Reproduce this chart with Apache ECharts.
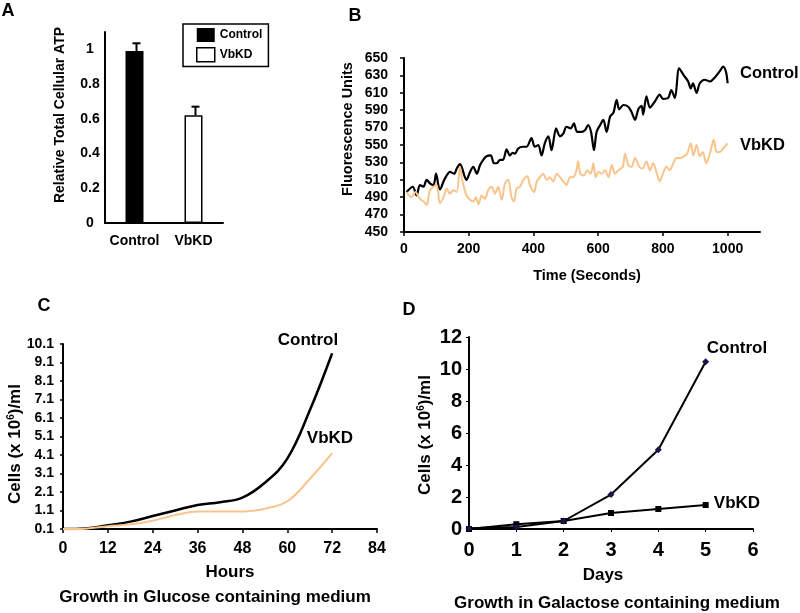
<!DOCTYPE html>
<html><head><meta charset="utf-8">
<script src="https://cdn.jsdelivr.net/npm/echarts@6/dist/echarts.min.js"></script>
<style>html,body{margin:0;padding:0;background:#fff}#c{width:800px;height:613px}</style>
</head><body><div id="c"></div>
<script>
// ---- Panel A: relative total cellular ATP ----
const atpCategories = ['Control', 'VbKD'];
const atpValues = [0.99, 0.62];
const atpErrors = [0.045, 0.05];
const atpTicks = [0, 0.2, 0.4, 0.6, 0.8, 1];

// ---- Panel B: fluorescence over time ----
const fluoControlTime = [8,27,39,49,60,70,80,91,99,107,111,122,132,142,155,163,173,178,193,204,214,225,235,245,255,268,278,286,297,306,317,327,336,343,353,367,379,394,404,415,425,435,446,456,470,482,492,502,515,525,535,549,559,569,578,587,595,606,616,626,637,647,657,665,678,693,703,714,724,734,739,749,760,775,790,800,816,826,837,850,863,878,886,893,904,914,930,945,961,976,986,995,1000];
const fluoControlValue = [496,502,492,504,502,510,506,504,517,502,499,508,515,519,517,523,528,525,510,519,525,517,527,533,537,538,529,529,533,533,545,538,541,540,546,548,548,558,548,550,538,552,560,544,569,560,563,571,569,575,565,565,567,573,565,544,565,573,579,565,583,587,602,591,596,594,588,579,591,595,585,606,593,600,608,603,604,613,604,638,631,623,615,621,610,621,625,623,628,635,640,634,621];
const fluoVbkdTime = [8,23,35,49,61,70,80,91,101,111,122,132,142,152,163,173,181,193,204,214,222,230,240,250,260,271,281,291,302,312,322,332,340,348,358,369,381,389,402,410,420,430,441,451,461,472,482,492,502,513,523,533,538,545,556,566,577,585,592,601,611,621,632,642,652,662,676,683,693,703,714,727,737,749,760,770,780,790,800,811,821,832,842,855,865,875,886,894,904,914,923,934,945,957,966,976,986,1000];
const fluoVbkdValue = [496,490,496,488,485,481,498,502,504,483,490,500,494,498,496,525,508,492,487,485,490,482,492,488,498,502,494,502,487,506,510,490,485,500,502,510,514,504,496,508,513,517,510,513,508,517,513,508,504,513,513,521,531,517,515,521,517,529,513,519,517,521,513,527,517,521,525,540,527,525,535,525,523,531,521,529,519,508,517,525,521,529,535,535,537,540,552,538,550,537,542,529,540,556,542,542,546,552];
const fluoXTicks = [0, 200, 400, 600, 800, 1000];

// ---- Panel C: growth in glucose ----
const glucoseHours = [0, 6, 12, 18, 24, 30, 36, 42, 48, 54, 60, 66, 72];
const glucoseControl = [0.1, 0.13, 0.3, 0.5, 0.8, 1.1, 1.4, 1.55, 1.8, 2.6, 3.9, 6.5, 9.6];
const glucoseVbkd = [0.1, 0.12, 0.25, 0.35, 0.55, 0.85, 1.05, 1.05, 1.05, 1.2, 1.6, 2.8, 4.2];

// ---- Panel D: growth in galactose ----
const galactoseDays = [0, 1, 2, 3, 4, 5];
const galactoseControl = [0.05, 0.12, 0.5, 2.15, 4.95, 10.45];
const galactoseVbkd = [0.0, 0.3, 0.5, 1.0, 1.25, 1.5];

const FF = '"Liberation Sans", Arial, sans-serif';
const ORANGE = '#f8c48c';
const zip = (a, b) => a.map((v, i) => [v, b[i]]);
const lbl = (size, extra) => Object.assign({color: '#000', fontFamily: FF, fontWeight: 'bold', fontSize: size}, extra || {});
const axLine = (w) => ({show: true, lineStyle: {color: '#000', width: w}});

function txt(text, x, y, size, opts) {
  opts = opts || {};
  return {
    type: 'text', x: x, y: y, rotation: opts.rot || 0, z: 100,
    style: {
      text: text, fill: '#000', fontFamily: FF, fontWeight: 'bold', fontSize: size,
      align: opts.align || 'center', verticalAlign: 'middle', rich: opts.rich
    }
  };
}
const supRich = (size) => ({sup: {fontFamily: FF, fontWeight: 'bold', fontSize: size, fill: '#000', verticalAlign: 'top', padding: [0, 0, 6, 0]}});

const chart = echarts.init(document.getElementById('c'), null, {renderer: 'canvas'});
chart.setOption({
  animation: false,
  backgroundColor: '#fff',
  grid: [
    {left: 105, top: 32, width: 118, height: 191},
    {left: 404, top: 58, width: 356, height: 174},
    {left: 63, top: 344, width: 314, height: 185},
    {left: 469, top: 337, width: 284, height: 192}
  ],
  xAxis: [
    {gridIndex: 0, type: 'category', data: atpCategories, axisLine: axLine(2), axisTick: {show: false},
     axisLabel: lbl(14, {margin: 11, interval: 0, hideOverlap: false}), splitLine: {show: false}},
    {gridIndex: 1, type: 'value', min: 0, max: 1100, axisLine: axLine(2),
     axisTick: {show: true, length: 4, customValues: fluoXTicks, lineStyle: {color: '#000', width: 1.5}},
     axisLabel: lbl(14, {margin: 10, customValues: fluoXTicks, formatter: v => String(v)}), splitLine: {show: false}},
    {gridIndex: 2, type: 'value', min: 0, max: 84, interval: 12, axisLine: axLine(2),
     axisTick: {show: true, length: 4, lineStyle: {color: '#000', width: 1.5}},
     axisLabel: lbl(16, {margin: 12}), splitLine: {show: false}},
    {gridIndex: 3, type: 'value', min: 0, max: 6, interval: 1, axisLine: axLine(2),
     axisTick: {show: true, length: 3, lineStyle: {color: '#000', width: 1}},
     axisLabel: lbl(20, {margin: 11}), splitLine: {show: false}}
  ],
  yAxis: [
    {gridIndex: 0, type: 'value', min: 0, max: 1.1, axisLine: axLine(2), axisTick: {show: false},
     axisLabel: lbl(14, {margin: 15, align: 'center', customValues: atpTicks}), splitLine: {show: false}},
    {gridIndex: 1, type: 'value', min: 450, max: 650, interval: 20, axisLine: axLine(2),
     axisTick: {show: true, length: 4, lineStyle: {color: '#000', width: 1.5}},
     axisLabel: lbl(14, {margin: 16}), splitLine: {show: false}},
    {gridIndex: 2, type: 'value', min: 0.1, max: 10.1, interval: 1, axisLine: axLine(2),
     axisTick: {show: true, length: 3, lineStyle: {color: '#000', width: 1.5}},
     axisLabel: lbl(14, {margin: 9, formatter: v => v.toFixed(1)}), splitLine: {show: false}},
    {gridIndex: 3, type: 'value', min: 0, max: 12, interval: 2, axisLine: axLine(2),
     axisTick: {show: true, length: 3, lineStyle: {color: '#000', width: 1}},
     axisLabel: lbl(20, {margin: 7}), splitLine: {show: false}}
  ],
  legend: {
    left: 183, top: 24, orient: 'vertical', itemWidth: 18, itemHeight: 14, itemGap: 5,
    padding: [4, 6, 4, 13], borderColor: '#000', borderWidth: 1.5, backgroundColor: '#fff',
    textStyle: lbl(12), selectedMode: false,
    data: [
      {name: 'Control', icon: 'rect', itemStyle: {color: '#000', borderWidth: 0}},
      {name: 'VbKD', icon: 'rect', itemStyle: {color: '#fff', borderColor: '#000', borderWidth: 1.5}}
    ]
  },
  series: [
    {name: 'Control', type: 'bar', xAxisIndex: 0, yAxisIndex: 0, barWidth: 18, barGap: '-100%',
     data: [atpValues[0], '-'], itemStyle: {color: '#000'}},
    {name: 'VbKD', type: 'bar', xAxisIndex: 0, yAxisIndex: 0, barWidth: 18, barGap: '-100%',
     data: ['-', atpValues[1]], itemStyle: {color: '#fff', borderColor: '#000', borderWidth: 1.5}},
    {name: 'err', type: 'custom', xAxisIndex: 0, yAxisIndex: 0, z: 5,
     data: atpCategories.map((c, i) => [i, atpValues[i], atpValues[i] + atpErrors[i]]),
     renderItem: (params, api) => {
       const b = api.coord([api.value(0), api.value(1)]);
       const t = api.coord([api.value(0), api.value(2)]);
       const x = b[0] + 2;
       return {type: 'group', children: [
         {type: 'line', shape: {x1: x, y1: b[1], x2: x, y2: t[1]}, style: {stroke: '#000', lineWidth: 2}},
         {type: 'line', shape: {x1: x - 4, y1: t[1], x2: x + 4, y2: t[1]}, style: {stroke: '#000', lineWidth: 2}}
       ]};
     }},
    {name: 'B Control', type: 'line', xAxisIndex: 1, yAxisIndex: 1, showSymbol: false, smooth: 0.3,
     data: zip(fluoControlTime, fluoControlValue), lineStyle: {color: '#000', width: 2.2}, z: 3},
    {name: 'B VbKD', type: 'line', xAxisIndex: 1, yAxisIndex: 1, showSymbol: false, smooth: 0.3,
     data: zip(fluoVbkdTime, fluoVbkdValue), lineStyle: {color: ORANGE, width: 2}, z: 4},
    {name: 'C Control', type: 'line', xAxisIndex: 2, yAxisIndex: 2, showSymbol: false, smooth: 0.4,
     data: zip(glucoseHours, glucoseControl), lineStyle: {color: '#000', width: 2.5}, z: 3},
    {name: 'C VbKD', type: 'line', xAxisIndex: 2, yAxisIndex: 2, showSymbol: false, smooth: 0.4,
     data: zip(glucoseHours, glucoseVbkd), lineStyle: {color: ORANGE, width: 2}, z: 4},
    {name: 'D VbKD', type: 'line', xAxisIndex: 3, yAxisIndex: 3, symbol: 'rect', symbolSize: 6,
     data: zip(galactoseDays, galactoseVbkd), lineStyle: {color: '#000', width: 2}, itemStyle: {color: '#000'}, z: 3},
    {name: 'D Control', type: 'line', xAxisIndex: 3, yAxisIndex: 3, symbol: 'diamond', symbolSize: 7,
     data: zip(galactoseDays, galactoseControl), lineStyle: {color: '#000', width: 2}, itemStyle: {color: '#16164e'}, z: 4}
  ],
  graphic: [
    txt('A', 8, 11, 18),
    txt('B', 355, 16, 18),
    txt('C', 44, 306, 18),
    txt('D', 409, 310, 18),
    txt('Relative Total Cellular ATP', 60, 115, 14, {rot: Math.PI / 2}),
    txt('Fluorescence Units', 348, 129, 14.5, {rot: Math.PI / 2}),
    txt('Time (Seconds)', 587, 276, 14.5),
    txt('Control', 740, 73, 16.5, {align: 'left'}),
    txt('VbKD', 740, 145, 16.5, {align: 'left'}),
    txt('Cells (x 10{sup|6})/ml', 15, 444, 17, {rot: Math.PI / 2, rich: supRich(10)}),
    txt('Hours', 230, 572, 17),
    txt('Growth in Glucose containing medium', 215, 597, 17),
    txt('Control', 308, 340, 17),
    txt('VbKD', 330, 438, 17),
    txt('Cells (x 10{sup|6})/ml', 425, 435, 17, {rot: Math.PI / 2, rich: supRich(10)}),
    txt('Days', 603, 575, 17),
    txt('Growth in Galactose containing medium', 617, 603, 17),
    txt('Control', 737, 348, 17),
    txt('VbKD', 737, 503, 17)
  ]
});
</script>
</body></html>
